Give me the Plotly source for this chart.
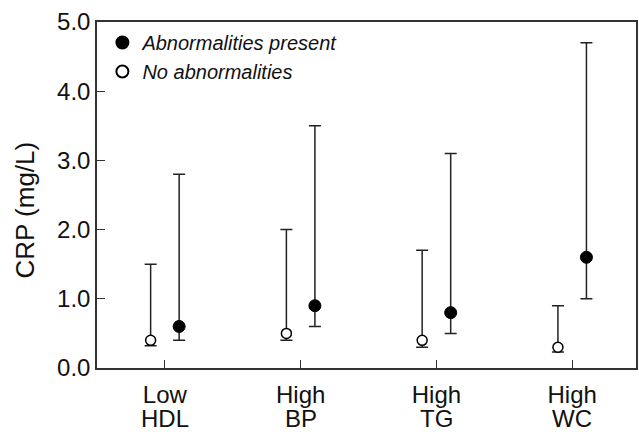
import plotly.graph_objects as go

cat_line1 = ["Low", "High", "High", "High"]
cat_line2 = ["HDL", "BP", "TG", "WC"]
present_med = [0.6, 0.9, 0.8, 1.6]
present_low = [0.4, 0.6, 0.5, 1.0]
present_high = [2.8, 3.5, 3.1, 4.7]
none_med = [0.4, 0.5, 0.4, 0.3]
none_low = [0.32, 0.4, 0.3, 0.23]
none_high = [1.5, 2.0, 1.7, 0.9]

idx = list(range(len(cat_line1)))
off = 0.105

fig = go.Figure()
fig.add_trace(go.Scatter(
    x=[i + off for i in idx], y=present_med, mode="markers",
    name="<i>Abnormalities present</i>",
    marker=dict(symbol="circle", size=12, color="black", line=dict(color="black", width=1)),
    error_y=dict(type="data", symmetric=False,
                 array=[h - m for h, m in zip(present_high, present_med)],
                 arrayminus=[m - l for m, l in zip(present_med, present_low)],
                 color="#222", thickness=1.5, width=6),
))
fig.add_trace(go.Scatter(
    x=[i - off for i in idx], y=none_med, mode="markers",
    name="<i>No abnormalities</i>",
    marker=dict(symbol="circle", size=10, color="white", line=dict(color="black", width=1.5)),
    error_y=dict(type="data", symmetric=False,
                 array=[h - m for h, m in zip(none_high, none_med)],
                 arrayminus=[m - l for m, l in zip(none_med, none_low)],
                 color="#222", thickness=1.5, width=6),
))

fig.add_annotation(text="CRP (mg/L)", textangle=-90, xref="paper", yref="paper",
                   x=0, xshift=-72, y=0.455, xanchor="center", yanchor="middle",
                   showarrow=False, font=dict(size=26, color="#111"))

for i, t in zip(idx, cat_line2):
    fig.add_annotation(text=t, xref="x", yref="paper", x=i, y=0, yshift=-50,
                       xanchor="center", yanchor="middle", showarrow=False,
                       font=dict(size=24, color="#111"))

fig.update_layout(
    width=639, height=432,
    margin=dict(l=97, r=3, t=22, b=64),
    paper_bgcolor="white", plot_bgcolor="white",
    font=dict(family="Liberation Sans, Arial, sans-serif", color="#111"),
    showlegend=True,
    legend=dict(x=0.01, y=0.997, xanchor="left", yanchor="top",
                bgcolor="rgba(0,0,0,0)", font=dict(size=20, color="#111"),
                itemsizing="constant", tracegroupgap=0),
    xaxis=dict(range=[-0.5, 3.47], tickvals=idx, ticktext=cat_line1,
               showgrid=False, zeroline=False, showline=True, linecolor="#333",
               linewidth=1.5, mirror=True, ticks="inside", ticklen=8, tickcolor="#333",
               tickfont=dict(size=24, color="#111"), automargin=False,
               ticklabelstandoff=4),
    yaxis=dict(range=[0, 5], tickvals=[0, 1, 2, 3, 4, 5],
               ticktext=["0.0", "1.0", "2.0", "3.0", "4.0", "5.0"],
               showgrid=False, zeroline=False, showline=True, linecolor="#333",
               linewidth=1.5, mirror=True, ticks="inside", ticklen=8, tickcolor="#333",
               tickfont=dict(size=24, color="#111"), automargin=False),
)

fig.write_html("out.html")
